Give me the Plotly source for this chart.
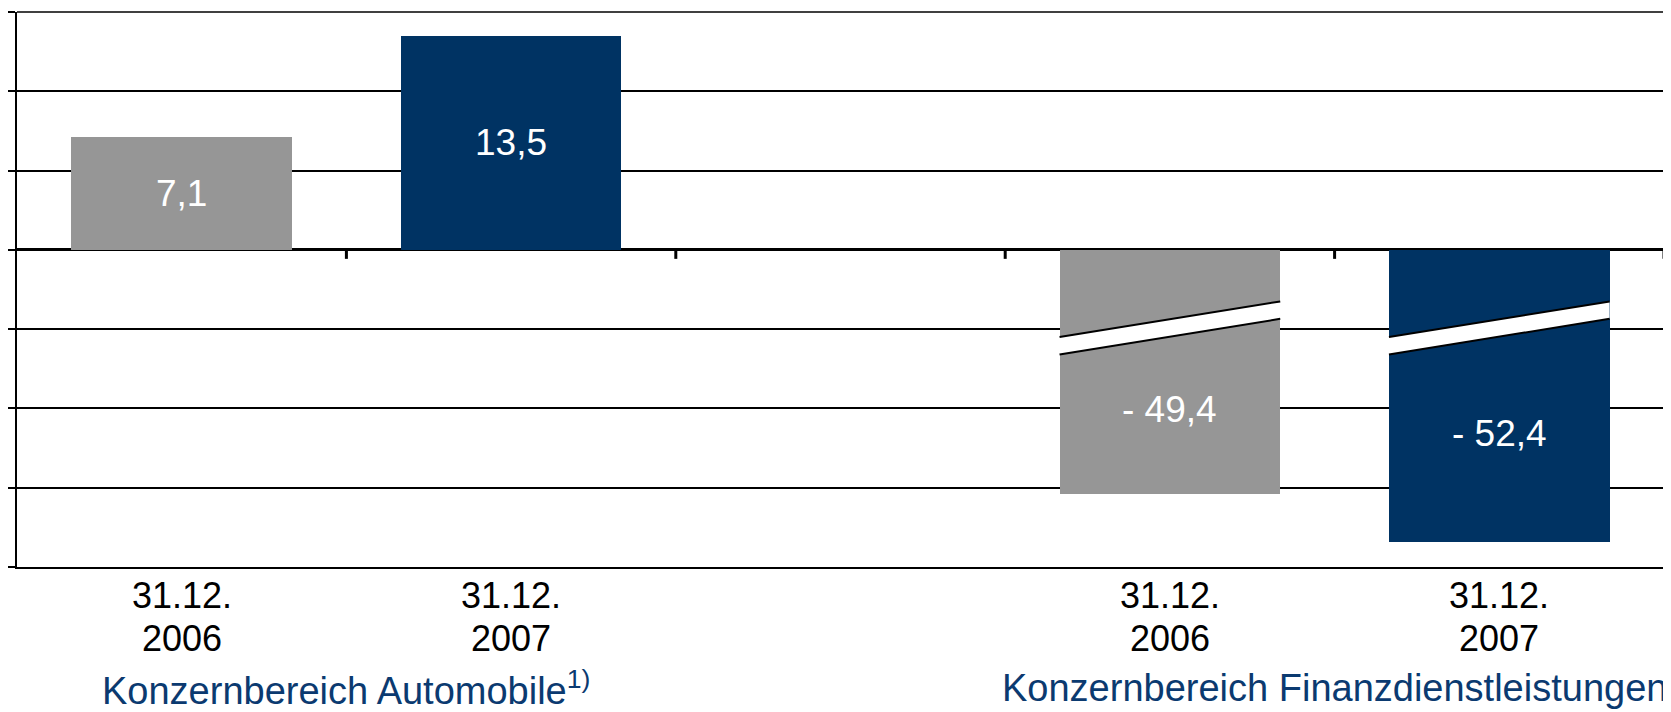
import plotly.graph_objects as go

# ---- data ----
positions = [0, 1, 3, 4]
date_line1 = ["31.12.", "31.12.", "31.12.", "31.12."]
date_line2 = ["2006", "2007", "2006", "2007"]
values = [7.1, 13.5, -49.4, -52.4]
labels = ["7,1", "13,5", "- 49,4", "- 52,4"]
group_labels = ["Konzernbereich Automobile<sup>1)</sup>", "Konzernbereich Finanzdienstleistungen"]
group_centers = [0.5, 3.5]
ytick_vals = [-20, -15, -10, -5, 0, 5, 10, 15]
break_offset = 34          # amount cut out of the negative bars (axis break)
broken = [False, False, True, True]

GRAY = "#969696"
BLUE = "#003363"
LABEL_BLUE = "#0B3A70"
FONT = "Liberation Sans, Arial, sans-serif"
colors = [GRAY, BLUE, GRAY, BLUE]
bar_width = 0.67

shown = [v + break_offset if b else v for v, b in zip(values, broken)]

fig = go.Figure()
fig.add_trace(go.Bar(
    x=positions, y=shown, width=bar_width,
    marker=dict(color=colors, line=dict(width=0)),
    hoverinfo="skip", showlegend=False,
))

shapes = []
annotations = []
# top grid line (at the range edge; paper-referenced so it is not clipped)
shapes.append(dict(type="line", xref="paper", yref="paper", x0=0, x1=1, y0=1, y1=1,
                   line=dict(color="black", width=1.5), layer="above"))
# break bands
brk_left, brk_right, brk_gap = -5.5, -3.25, 1.1
for p, s, b, lab in zip(positions, shown, broken, labels):
    x0, x1 = p - bar_width / 2, p + bar_width / 2
    if b:
        path = (f"M {x0},{brk_left} L {x1},{brk_right} L {x1},{brk_right - brk_gap} "
                f"L {x0},{brk_left - brk_gap} Z")
        shapes.append(dict(type="path", path=path, xref="x", yref="y",
                           fillcolor="white", line=dict(width=0), layer="above"))
        for off in (0, brk_gap):
            shapes.append(dict(type="line", xref="x", yref="y",
                               x0=x0, y0=brk_left - off, x1=x1, y1=brk_right - off,
                               line=dict(color="black", width=2), layer="above"))
        lower_mid = (brk_left + brk_right) / 2 - brk_gap
        ylab = (lower_mid + s) / 2
        ysh = 6
    else:
        ylab = s / 2
        ysh = 0
    annotations.append(dict(x=p, y=ylab, xref="x", yref="y", text=lab, showarrow=False,
                            yshift=ysh,
                            font=dict(family=FONT, size=37, color="white")))

# tick marks on zero line at category boundaries
for bnd in [0.5, 1.5, 2.5, 3.5, 4.5]:
    shapes.append(dict(type="line", xref="x", yref="y", ysizemode="pixel", yanchor=0,
                       x0=bnd, x1=bnd, y0=0, y1=-9,
                       line=dict(color="black", width=3), layer="above"))

# category labels (two lines each)
for p, l1, l2 in zip(positions, date_line1, date_line2):
    annotations.append(dict(x=p, y=0, xref="x", yref="paper", yanchor="middle", yshift=-28,
                            text=l1, showarrow=False,
                            font=dict(family=FONT, size=36, color="black")))
    annotations.append(dict(x=p, y=0, xref="x", yref="paper", yanchor="middle", yshift=-71,
                            text=l2, showarrow=False,
                            font=dict(family=FONT, size=36, color="black")))

for gl, gc in zip(group_labels, group_centers):
    annotations.append(dict(x=gc, y=0, xref="x", yref="paper", yanchor="middle", yshift=-121,
                            text=gl, showarrow=False,
                            font=dict(family=FONT, size=38, color=LABEL_BLUE)))

# the page body keeps its default 8px margin, so the figure is sized to fit
fig.update_layout(
    width=1663, height=704,
    margin=dict(l=9, r=7, t=4, b=145),
    paper_bgcolor="white", plot_bgcolor="white",
    bargap=0,
    shapes=shapes, annotations=annotations,
    xaxis=dict(
        range=[-0.5, 4.5], showticklabels=False,
        ticks="", showgrid=False, zeroline=False, automargin=False,
        showline=True, linecolor="black", linewidth=2,
        fixedrange=True,
    ),
    yaxis=dict(
        range=[-20, 15], tickvals=ytick_vals, showticklabels=False, automargin=False,
        ticks="outside", ticklen=8, tickwidth=2, tickcolor="black",
        showgrid=True, gridcolor="black", gridwidth=1.5,
        zeroline=True, zerolinecolor="black", zerolinewidth=3,
        showline=True, linecolor="black", linewidth=2,
        fixedrange=True,
    ),
)

fig.write_html("out.html")
